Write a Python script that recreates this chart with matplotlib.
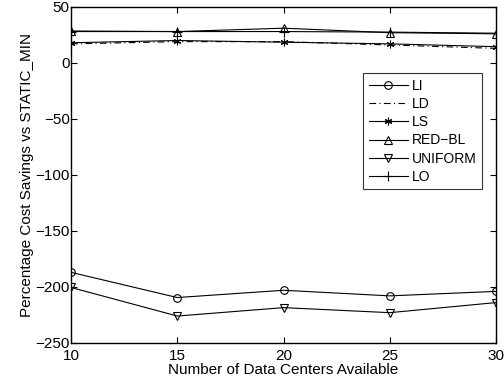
import matplotlib.pyplot as plt

plt.rcParams['font.family'] = ['Liberation Sans', 'DejaVu Sans']

num_dcs = [10, 15, 20, 25, 30]

li = [-187, -209.5, -203, -208, -204]
ld = [17, 19, 19, 16, 13]
ls = [18, 20, 18.5, 17, 14.5]
red_bl = [28.5, 28, 31, 27, 26]
uniform = [-200.5, -226, -218.5, -223, -214]
lo = [28, 28, 28, 27.5, 26.5]

fig = plt.figure(figsize=(5.04, 3.84), dpi=100)
ax = fig.add_axes([0.141, 0.107, 0.843, 0.875])

lw = 0.8
ms = 5.5
ax.plot(num_dcs, li, color='k', lw=lw, marker='o', ms=ms, mfc='none', mew=0.8, label='LI')
ax.plot(num_dcs, ld, color='k', lw=lw, ls=(0, (6, 3, 1, 3)), label='LD')
ax.plot(num_dcs, ls, color='k', lw=lw, marker=(6, 2, 0), ms=ms, mew=0.8, label='LS')
ax.plot(num_dcs, red_bl, color='k', lw=lw, marker='^', ms=ms, mfc='none', mew=0.8, label='RED\u2212BL')
ax.plot(num_dcs, uniform, color='k', lw=lw, marker='v', ms=ms, mfc='none', mew=0.8, label='UNIFORM')
ax.plot(num_dcs, lo, color='k', lw=lw, marker='+', ms=ms + 1, mew=0.8, label='LO')

ax.set_xlim(10, 30)
ax.set_ylim(-250, 50)
ax.set_xticks(num_dcs)
ax.set_yticks(range(-250, 51, 50))
ax.tick_params(direction='in', top=True, right=True, labelsize=11, length=4)
ax.tick_params(axis='y', pad=1)
ax.tick_params(axis='x', pad=4.5)
for s in ax.spines.values():
    s.set_linewidth(1.0)

ax.set_xlabel('Number of Data Centers Available', fontsize=11, labelpad=0)
ax.set_ylabel('Percentage Cost Savings vs STATIC_MIN', fontsize=11, labelpad=1)

leg = ax.legend(loc='upper left', bbox_to_anchor=(0.688, 0.802), fontsize=10,
                frameon=True, fancybox=False, edgecolor='k', handlelength=2.8,
                borderpad=0.4, labelspacing=0.3, handletextpad=0.3, borderaxespad=0)
leg.get_frame().set_linewidth(0.8)

fig.savefig('out.png', dpi=100)
